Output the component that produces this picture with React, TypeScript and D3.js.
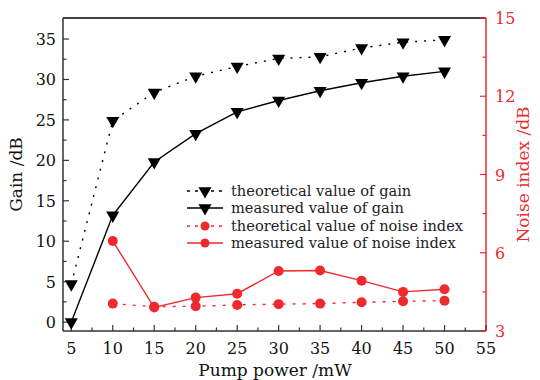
import React from "react";
import { scaleLinear, line, range, symbol, symbolTriangle } from "d3";

const pumpPower = [5, 10, 15, 20, 25, 30, 35, 40, 45, 50];
const gainTheory = [4.7, 24.9, 28.4, 30.4, 31.6, 32.6, 32.8, 33.9, 34.6, 34.9];
const gainMeasured = [0, 13.2, 19.8, 23.3, 26.0, 27.4, 28.6, 29.6, 30.4, 31.0];
const noisePower = [10, 15, 20, 25, 30, 35, 40, 45, 50];
const noiseTheory = [4.05, 3.93, 3.95, 4.0, 4.03, 4.05, 4.1, 4.14, 4.16];
const noiseMeasured = [6.45, 3.9, 4.28, 4.43, 5.3, 5.32, 4.93, 4.5, 4.6];

const xTicks = [5, 10, 15, 20, 25, 30, 35, 40, 45, 50, 55];
const gainTicks = [0, 5, 10, 15, 20, 25, 30, 35];
const noiseTicks = [3, 6, 9, 12, 15];

const legendLabels = [
  "theoretical value of gain",
  "measured value of gain",
  "theoretical value of noise index",
  "measured value of noise index",
];

const RED = "#ee2a2e";
const FONT = "'DejaVu Serif', 'Liberation Serif', serif";

export default function App() {
  const left = 63;
  const right = 486;
  const top = 18;
  const bottom = 331;

  const x = scaleLinear().domain([4, 55]).range([left, right]);
  const yG = scaleLinear().domain([-1.1, 37.6]).range([bottom, top]);
  const yN = scaleLinear().domain([3, 15]).range([bottom, top]);

  const tri = symbol().type(symbolTriangle).size(74)() as string;
  const triDown = (cx: number, cy: number, k: number) => (
    <path key={k} d={tri} transform={`translate(${cx},${cy}) rotate(180)`} fill="#000" />
  );

  const gLine = line<number>().x((_, i) => x(pumpPower[i])).y((d) => yG(d));
  const nLine = line<number>().x((_, i) => x(noisePower[i])).y((d) => yN(d));

  const xMinor = range(7.5, 55, 5);
  const gMinor = range(2.5, 37, 5);
  const nMinor = [4.5, 7.5, 10.5, 13.5];

  const legX = 187;
  const legY = [191, 208, 226, 243];

  return (
    <svg
      width={540}
      height={380}
      style={{ position: "fixed", left: 0, top: 0, background: "#fff" }}
      fontFamily={FONT}
    >
      {/* frame */}
      <line x1={left} x2={right} y1={top} y2={top} stroke="#000" strokeWidth={1.5} />
      <line x1={left} x2={left} y1={top} y2={bottom} stroke="#333" strokeWidth={1.5} />
      <line x1={left} x2={right} y1={bottom} y2={bottom} stroke="#333" strokeWidth={1.5} />
      <line x1={right} x2={right} y1={top} y2={bottom} stroke={RED} strokeWidth={1.5} />

      {/* x axis */}
      {xTicks.map((t) => (
        <g key={t}>
          <line x1={x(t)} x2={x(t)} y1={bottom} y2={bottom - 6} stroke="#333" strokeWidth={1.2} />
          <text x={x(t)} y={354} textAnchor="middle" fontSize={16} fill="#111">
            {t}
          </text>
        </g>
      ))}
      {xMinor.map((t) => (
        <line key={t} x1={x(t)} x2={x(t)} y1={bottom} y2={bottom - 3.5} stroke="#333" strokeWidth={1.2} />
      ))}
      <text x={275} y={376} textAnchor="middle" fontSize={17} fill="#111">
        Pump power /mW
      </text>

      {/* left axis */}
      {gainTicks.map((t) => (
        <g key={t}>
          <line x1={left} x2={left + 6} y1={yG(t)} y2={yG(t)} stroke="#333" strokeWidth={1.2} />
          <text x={56} y={yG(t) + 6} textAnchor="end" fontSize={16} fill="#111">
            {t}
          </text>
        </g>
      ))}
      {gMinor.map((t) => (
        <line key={t} x1={left} x2={left + 3.5} y1={yG(t)} y2={yG(t)} stroke="#333" strokeWidth={1.2} />
      ))}
      <text
        transform={`translate(22,${(top + bottom) / 2}) rotate(-90)`}
        textAnchor="middle"
        fontSize={17}
        fill="#111"
      >
        Gain /dB
      </text>

      {/* right axis */}
      {noiseTicks.map((t) => (
        <g key={t}>
          <line x1={right} x2={right - 6} y1={yN(t)} y2={yN(t)} stroke={RED} strokeWidth={1.2} />
          <text x={495} y={yN(t) + 6} textAnchor="start" fontSize={16} fill={RED}>
            {t}
          </text>
        </g>
      ))}
      {nMinor.map((t) => (
        <line key={t} x1={right} x2={right - 3.5} y1={yN(t)} y2={yN(t)} stroke={RED} strokeWidth={1.2} />
      ))}
      <text
        transform={`translate(529,${(top + bottom) / 2}) rotate(-90)`}
        textAnchor="middle"
        fontSize={17}
        fill={RED}
      >
        Noise index /dB
      </text>

      {/* series */}
      <path d={gLine(gainTheory) ?? ""} fill="none" stroke="#000" strokeWidth={1.4} strokeDasharray="2,7" />
      <path d={gLine(gainMeasured) ?? ""} fill="none" stroke="#000" strokeWidth={1.4} />
      <path d={nLine(noiseTheory) ?? ""} fill="none" stroke={RED} strokeWidth={1.4} strokeDasharray="3,7" />
      <path d={nLine(noiseMeasured) ?? ""} fill="none" stroke={RED} strokeWidth={1.4} />
      {gainTheory.map((d, i) => triDown(x(pumpPower[i]), yG(d), i))}
      {gainMeasured.map((d, i) => triDown(x(pumpPower[i]), yG(d), i + 100))}
      {noiseTheory.map((d, i) => (
        <circle key={i} cx={x(noisePower[i])} cy={yN(d)} r={5} fill={RED} />
      ))}
      {noiseMeasured.map((d, i) => (
        <circle key={i} cx={x(noisePower[i])} cy={yN(d)} r={5} fill={RED} />
      ))}

      {/* legend */}
      {legendLabels.map((lab, i) => {
        const isRed = i >= 2;
        const dashed = i % 2 === 0;
        const col = isRed ? RED : "#000";
        const y = legY[i];
        return (
          <g key={lab}>
            <line
              x1={legX}
              x2={legX + 36}
              y1={y}
              y2={y}
              stroke={col}
              strokeWidth={1.4}
              strokeDasharray={dashed ? "3,5" : undefined}
            />
            {isRed ? (
              <circle cx={legX + 18} cy={y} r={4.5} fill={RED} />
            ) : (
              triDown(legX + 18, y, i + 200)
            )}
            <text x={legX + 44} y={y + 5} fontSize={14.6} fill="#222">
              {lab}
            </text>
          </g>
        );
      })}
    </svg>
  );
}
